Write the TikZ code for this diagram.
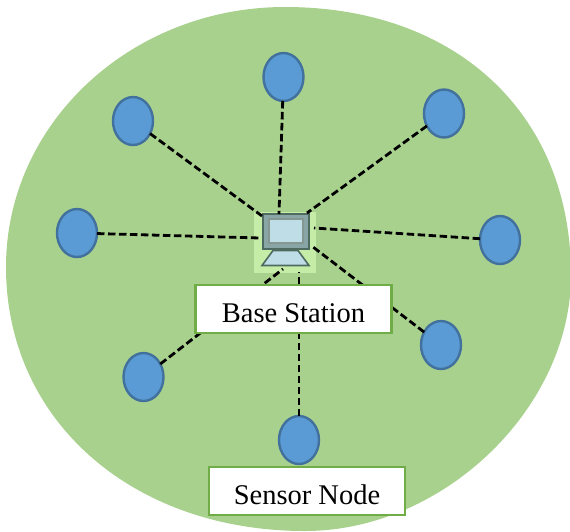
\documentclass[tikz,border=0pt]{standalone}
\usepackage{fontspec}
\setmainfont{Liberation Serif}
\usetikzlibrary{shapes.geometric}
\definecolor{fieldgreen}{HTML}{A9D18E}
\definecolor{boxgreen}{HTML}{70AD47}
\definecolor{nodeblue}{HTML}{5B9BD5}
\definecolor{nodeedge}{HTML}{41719C}
\definecolor{iconbg}{HTML}{C6EDA8}
\definecolor{screenblue}{HTML}{BFDDE6}
\definecolor{frameedge}{HTML}{4F6A60}
\definecolor{framefill}{HTML}{8AA5A5}
\tikzset{
  sensor/.style={ellipse,draw=nodeedge,fill=nodeblue,line width=2.4pt,minimum width=40pt,minimum height=48pt,inner sep=0pt,outer sep=0pt},
  labelbox/.style={draw=boxgreen,fill=white,line width=2.6pt,minimum width=196pt,inner sep=0pt,outer sep=0pt,text height=37pt,text depth=11pt,font=\fontsize{28.5}{30}\selectfont},
  link/.style={draw=black,line width=2.8pt,dash pattern=on 7.5pt off 3.5pt},
  iconsq/.style={fill=iconbg,minimum width=62pt,minimum height=61pt,inner sep=0pt,outer sep=0pt},
}
\begin{document}
\begin{tikzpicture}[x=1pt,y=-1pt]
\useasboundingbox (0,0) rectangle (570,531);
\clip (0,0) rectangle (570,531);
\fill[fieldgreen] (6,267) .. controls (6,123.4) and (131,7) .. (285,7)
  .. controls (456.6,7) and (571,114.2) .. (571,275)
  .. controls (571,408) and (443.3,531) .. (305,531)
  .. controls (131.6,531) and (6,420) .. (6,267) -- cycle;
% base station square and connector ends
\node[iconsq] (bs) at (285,242.5) {};
% computer icon
\draw[frameedge,fill=framefill,line width=2pt] (bs.center) ++(-22.5,-29) rectangle ++(46,35);
\draw[frameedge!70,fill=screenblue,line width=1.2pt] (bs.center) ++(-16,-23.5) rectangle ++(34,24);
\draw[frameedge,fill=screenblue,line width=1.6pt] (bs.center) ++(-12,8) -- ++(25,0) -- ++(11,15) -- ++(-47,0) -- cycle;
\coordinate (e1) at (279,214);
\coordinate (e2) at (262,216);
\coordinate (e3) at (307,213);
\coordinate (e4) at (260,238);
\coordinate (e5) at (314,228);
\coordinate (e6) at (313,247);
\coordinate (e7) at (283,269);
\coordinate (e8) at (299,272);
% sensors
\node[sensor] (s1) at (283.5,77) {};
\node[sensor] (s2) at (133,121) {};
\node[sensor] (s3) at (444,113.5) {};
\node[sensor] (s4) at (77,233) {};
\node[sensor] (s5) at (500,240) {};
\node[sensor] (s6) at (441,345) {};
\node[sensor] (s7) at (143.5,377) {};
\node[sensor] (s8) at (299,440) {};
% connectors
\draw[link] (s1) -- (e1);
\draw[link] (s2) -- (e2);
\draw[link] (s3) -- (e3);
\draw[link] (s4) -- (e4);
\draw[link] (s5) -- (e5);
\draw[link] (s6) -- (e6);
\draw[link] (s7) -- (e7);
\draw[link] (s8) -- (e8);
% labels
\node[labelbox] (base) at (293.5,309) {Base Station};
\node[labelbox] (sens) at (307,491) {Sensor Node};
\end{tikzpicture}
\end{document}
